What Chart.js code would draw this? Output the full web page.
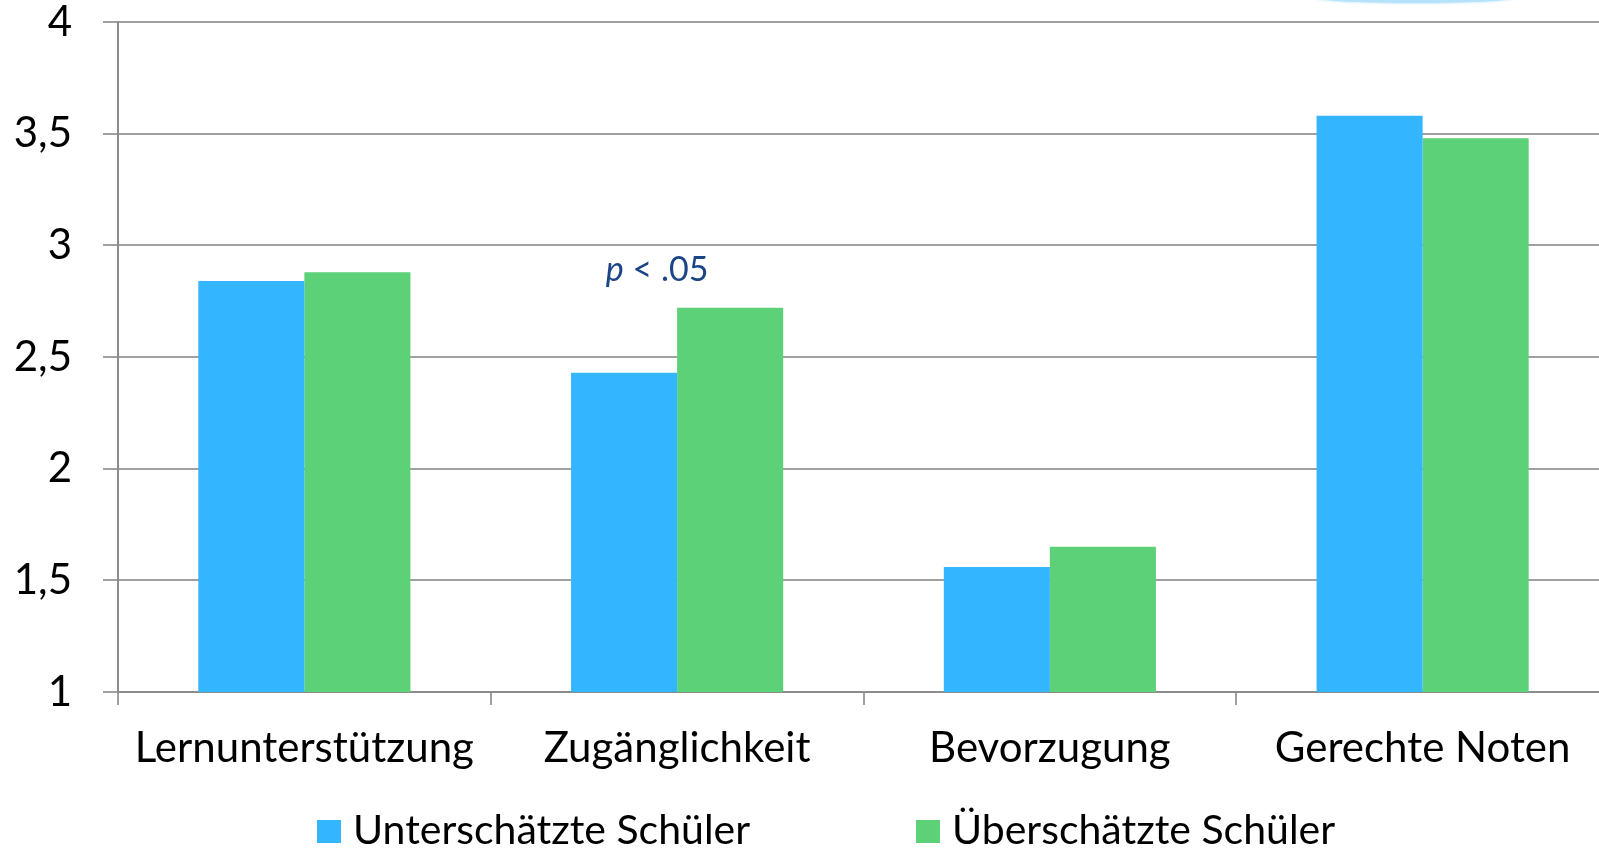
<!DOCTYPE html>
<html lang="de">
<head>
<meta charset="utf-8">
<title>Schülerwahrnehmung</title>
<script src="https://cdn.jsdelivr.net/npm/chart.js@4/dist/chart.umd.min.js"></script>
<style>
  html, body { margin: 0; padding: 0; background: #fff; overflow: hidden; }
  #wrap { position: relative; width: 1610px; height: 850px; }
  #legend { position: absolute; top: 808px; left: 0; width: 1610px; height: 42px; font-family: Lato, sans-serif; font-size: 41px; color: #000; }
  .item { position: absolute; top: 0; display: flex; align-items: flex-start; line-height: 1; white-space: nowrap; }
  .box { width: 24px; height: 23px; margin-top: 12px; margin-right: 12px; }
</style>
</head>
<body>
<div id="wrap">
  <canvas id="chart" width="1610" height="850"></canvas>
  <div id="legend"></div>
</div>
<script>
const categories = ['Lernunterstützung', 'Zugänglichkeit', 'Bevorzugung', 'Gerechte Noten'];
const unterschaetzt = [2.84, 2.43, 1.56, 3.58];
const ueberschaetzt = [2.88, 2.72, 1.65, 3.48];
const seriesNames = ['Unterschätzte Schüler', 'Überschätzte Schüler'];
const seriesColors = ['#33b6fe', '#5cd178'];
const legendLeft = [317, 916];

// Annotation above "Zugänglichkeit"
const note = { category: 1, value: 2.84, shift: -20 };

const gridGrey = '#a0a0a0';
const axisGrey = '#8c8c8c';

const decoPlugin = {
  id: 'deco',
  beforeDraw(chart) {
    // faint blue arc peeking in at the top edge
    const ctx = chart.ctx;
    ctx.save();
    ctx.fillStyle = '#b5e2fa';
    ctx.shadowColor = '#a6dcf8';
    ctx.shadowBlur = 3;
    ctx.beginPath();
    ctx.ellipse(1415, -2.5, 100, 5.5, 0, 0, Math.PI * 2);
    ctx.fill();
    ctx.restore();
  },
  afterDatasetsDraw(chart) {
    const ctx = chart.ctx;
    const x = chart.scales.x.getPixelForValue(note.category) + note.shift;
    const y = chart.scales.y.getPixelForValue(note.value);
    ctx.save();
    ctx.fillStyle = '#1c4587';
    ctx.textBaseline = 'alphabetic';
    ctx.font = 'italic 34px Lato, sans-serif';
    const pW = ctx.measureText('p').width;
    ctx.font = '34px Lato, sans-serif';
    const rest = ' < .05';
    const rW = ctx.measureText(rest).width;
    const start = x - (pW + rW) / 2;
    ctx.font = 'italic 34px Lato, sans-serif';
    ctx.fillText('p', start, y);
    ctx.font = '34px Lato, sans-serif';
    ctx.fillText(rest, start + pW, y);
    ctx.restore();
  }
};

const chart = new Chart(document.getElementById('chart'), {
  type: 'bar',
  data: {
    labels: categories,
    datasets: [
      { label: seriesNames[0], data: unterschaetzt, backgroundColor: seriesColors[0] },
      { label: seriesNames[1], data: ueberschaetzt, backgroundColor: seriesColors[1] }
    ]
  },
  options: {
    responsive: false,
    animation: false,
    layout: { padding: { top: 22, right: 1, bottom: 80, left: 0 } },
    datasets: { bar: { barPercentage: 1, categoryPercentage: 0.569 } },
    plugins: { legend: { display: false }, tooltip: { enabled: false } },
    scales: {
      x: {
        grid: { drawOnChartArea: false, drawTicks: true, tickLength: 13, color: gridGrey, lineWidth: 2 },
        border: { color: axisGrey, width: 2 },
        ticks: { color: '#000', padding: 18, font: { family: 'Lato', size: 42, lineHeight: 1.2 }, maxRotation: 0, autoSkip: false },
        afterFit: s => { s.height = 78; s.paddingLeft = 0; s.paddingRight = 0; }
      },
      y: {
        min: 1,
        max: 4,
        grid: { color: gridGrey, lineWidth: 2, tickLength: 15 },
        border: { color: axisGrey, width: 2 },
        ticks: {
          stepSize: 0.5,
          color: '#000',
          padding: 31,
          font: { family: 'Lato', size: 42, lineHeight: 1 },
          callback: v => String(v).replace('.', ',')
        },
        afterFit: s => { s.width = 118; s.paddingTop = 0; s.paddingBottom = 0; }
      }
    }
  },
  plugins: [decoPlugin]
});

const legendEl = document.getElementById('legend');
chart.data.datasets.forEach((ds, i) => {
  const item = document.createElement('div');
  item.className = 'item';
  item.style.left = legendLeft[i] + 'px';
  item.innerHTML = `<span class="box" style="background:${ds.backgroundColor}"></span><span>${ds.label}</span>`;
  legendEl.appendChild(item);
});
</script>
</body>
</html>
